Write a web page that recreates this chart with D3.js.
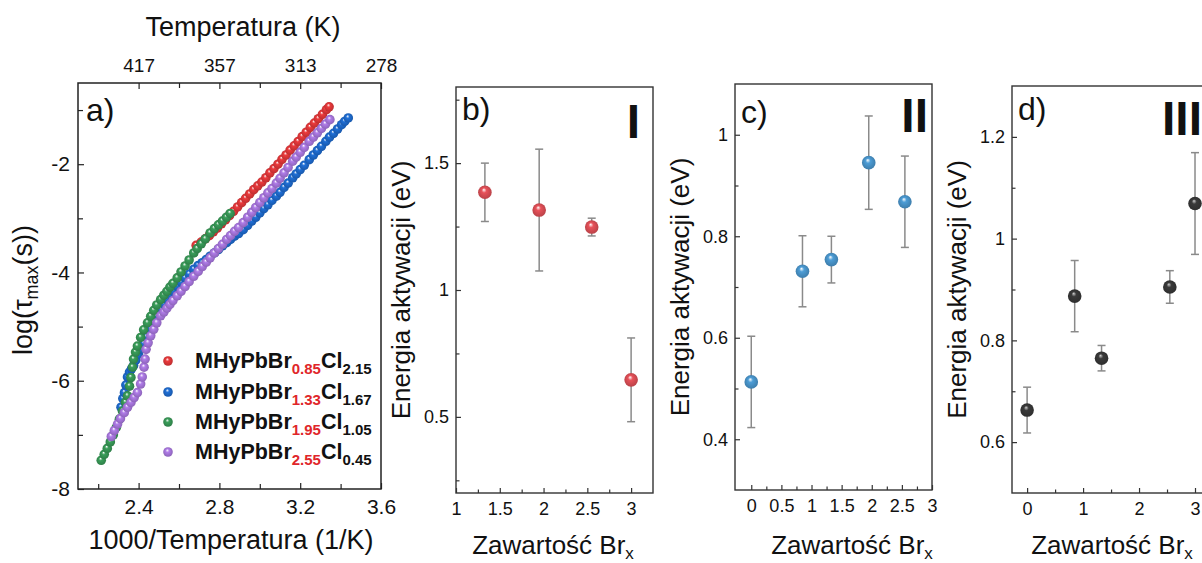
<!DOCTYPE html>
<html><head><meta charset="utf-8">
<script src="https://cdn.jsdelivr.net/npm/d3@7"></script>
<style>
body{margin:0;background:#fff}
svg{display:block}
text{font-family:"Liberation Sans",Arial,sans-serif;fill:#111}
</style>
</head><body>
<svg id="chart" width="1202" height="563"></svg>
<script>
// ---------- DATA ----------
// Panel a: log(tau_max) vs 1000/T  [x, y]
const seriesRed = [[2.685,-3.50],[2.71,-3.44],[2.73,-3.38],[2.75,-3.32],[2.77,-3.25],[2.79,-3.18],[2.81,-3.10],[2.83,-3.03],[2.85,-2.95],[2.87,-2.87],[2.89,-2.79],[2.91,-2.71],[2.93,-2.63],[2.95,-2.55],[2.97,-2.47],[2.99,-2.40],[3.01,-2.33],[3.03,-2.25],[3.05,-2.16],[3.07,-2.08],[3.09,-2.00],[3.11,-1.91],[3.13,-1.83],[3.15,-1.74],[3.17,-1.66],[3.19,-1.58],[3.21,-1.49],[3.23,-1.41],[3.25,-1.32],[3.27,-1.24],[3.29,-1.16],[3.31,-1.08],[3.33,-0.99],[3.343,-0.94]];
const seriesBlue = [[2.313,-6.49],[2.322,-6.33],[2.33,-6.22],[2.337,-6.08],[2.345,-5.93],[2.355,-5.84],[2.365,-5.78],[2.375,-5.72],[2.386,-5.62],[2.398,-5.51],[2.411,-5.42],[2.425,-5.31],[2.44,-5.19],[2.46,-5.05],[2.475,-4.93],[2.49,-4.81],[2.509,-4.68],[2.525,-4.58],[2.54,-4.49],[2.555,-4.41],[2.57,-4.34],[2.591,-4.25],[2.61,-4.18],[2.63,-4.10],[2.65,-4.03],[2.673,-3.94],[2.695,-3.87],[2.715,-3.82],[2.735,-3.76],[2.754,-3.70],[2.775,-3.64],[2.795,-3.58],[2.815,-3.51],[2.836,-3.45],[2.855,-3.39],[2.875,-3.33],[2.895,-3.28],[2.918,-3.21],[2.94,-3.13],[2.96,-3.05],[2.98,-2.98],[3.0,-2.90],[3.02,-2.82],[3.04,-2.75],[3.06,-2.67],[3.082,-2.59],[3.10,-2.52],[3.12,-2.43],[3.14,-2.35],[3.163,-2.25],[3.18,-2.18],[3.20,-2.10],[3.22,-2.02],[3.245,-1.915],[3.265,-1.83],[3.285,-1.75],[3.305,-1.67],[3.327,-1.577],[3.345,-1.50],[3.365,-1.43],[3.385,-1.35],[3.405,-1.27],[3.42,-1.21],[3.438,-1.146]];
const seriesGreen = [[2.215,-7.47],[2.23,-7.36],[2.245,-7.25],[2.26,-7.13],[2.275,-7.00],[2.29,-6.86],[2.305,-6.71],[2.32,-6.56],[2.335,-6.40],[2.345,-6.28],[2.355,-6.10],[2.362,-5.94],[2.37,-5.75],[2.375,-5.60],[2.385,-5.47],[2.394,-5.36],[2.41,-5.20],[2.425,-5.06],[2.444,-4.93],[2.46,-4.81],[2.475,-4.70],[2.49,-4.60],[2.509,-4.50],[2.525,-4.42],[2.54,-4.35],[2.555,-4.27],[2.57,-4.20],[2.591,-4.10],[2.61,-3.99],[2.63,-3.88],[2.65,-3.77],[2.673,-3.64],[2.69,-3.56],[2.71,-3.47],[2.73,-3.38],[2.754,-3.27],[2.775,-3.19],[2.795,-3.12],[2.815,-3.05],[2.835,-2.98],[2.853,-2.91]];
const seriesPurple = [[2.265,-7.03],[2.28,-6.92],[2.296,-6.80],[2.31,-6.70],[2.329,-6.59],[2.345,-6.49],[2.362,-6.40],[2.378,-6.31],[2.394,-6.22],[2.41,-6.06],[2.418,-5.93],[2.427,-5.75],[2.432,-5.60],[2.437,-5.42],[2.447,-5.30],[2.46,-5.17],[2.475,-5.05],[2.49,-4.93],[2.509,-4.80],[2.525,-4.73],[2.54,-4.66],[2.555,-4.59],[2.57,-4.52],[2.591,-4.43],[2.61,-4.35],[2.63,-4.26],[2.65,-4.17],[2.673,-4.07],[2.695,-3.98],[2.715,-3.89],[2.735,-3.81],[2.754,-3.73],[2.775,-3.64],[2.795,-3.56],[2.815,-3.48],[2.836,-3.39],[2.855,-3.32],[2.875,-3.24],[2.895,-3.17],[2.918,-3.08],[2.94,-2.98],[2.96,-2.89],[2.98,-2.80],[3.0,-2.71],[3.02,-2.62],[3.04,-2.53],[3.06,-2.45],[3.082,-2.35],[3.10,-2.26],[3.12,-2.16],[3.14,-2.06],[3.163,-1.945],[3.18,-1.87],[3.20,-1.78],[3.22,-1.69],[3.245,-1.577],[3.265,-1.50],[3.285,-1.42],[3.305,-1.34],[3.325,-1.26],[3.347,-1.177]];
const legendBr = ["0.85","1.33","1.95","2.55"];
const legendCl = ["2.15","1.67","1.05","0.45"];

// Panel a ticks
const aXMajor = [2.4,2.8,3.2,3.6], aXMinor = [2.2,2.6,3.0,3.4], aTopMinor = [2.6,3.0,3.4];
const aYMajor = [-8,-6,-4,-2], aYMinor = [-7,-5,-3,-1];

// Panel b (I)
const brI = [1.33,1.95,2.55,3.0];
const energyI = [1.385,1.315,1.248,0.646];
const errI = [0.115,0.24,0.035,0.165];
// Panel c (II)
const brII = [0,0.85,1.33,1.95,2.55];
const energyII = [0.513,0.731,0.754,0.945,0.868];
const errII = [0.09,0.07,0.046,0.092,0.09];
// Panel d (III)
const brIII = [0,0.85,1.33,2.55,3.0];
const energyIII = [0.663,0.887,0.765,0.905,1.069];
const errIII = [0.045,0.07,0.025,0.032,0.1];

const bXMajor=[1,1.5,2,2.5,3], bXMinor=[1.25,1.75,2.25,2.75], bYMajor=[0.5,1,1.5], bYMinor=[0.25,0.75,1.25,1.75];
const cXMajor=[0,0.5,1,1.5,2,2.5,3], cXMinor=[0.25,0.75,1.25,1.75,2.25,2.75], cYMajor=[0.4,0.6,0.8,1], cYMinor=[0.5,0.7,0.9];
const dXMajor=[0,1,2,3], dXMinor=[0.5,1.5,2.5], dYMajor=[0.6,0.8,1,1.2], dYMinor=[0.7,0.9,1.1];

// ---------- DRAW ----------
const FONT = '"Liberation Sans",Arial,sans-serif';
const svg = d3.select("#chart");
svg.append("rect").attr("width",1202).attr("height",563).attr("fill","#fff");
const defs = svg.append("defs");
function sphereGrad(id, color, hl) {
  const g = defs.append("radialGradient").attr("id", id)
    .attr("cx","50%").attr("cy","50%").attr("r","55%").attr("fx","42%").attr("fy","30%");
  g.append("stop").attr("offset","0%").attr("stop-color", hl || "#ffffff");
  g.append("stop").attr("offset","32%").attr("stop-color", color);
  g.append("stop").attr("offset","100%").attr("stop-color", d3.color(color).darker(0.7));
}
sphereGrad("gRed","#ec3a3c");
sphereGrad("gBlue","#1f6fd6");
sphereGrad("gGreen","#3a9e5a");
sphereGrad("gPurple","#b07ce8");
sphereGrad("gI","#e8525a");
sphereGrad("gII","#4d9dd6");
sphereGrad("gIII","#3a3a3a","#cfcfcf");

function styleAxis(g, size, color) {
  g.select(".domain").remove();
  g.selectAll("line").attr("stroke", color || "#222").attr("stroke-width",1.2);
  g.selectAll("text").attr("font-size", size).attr("font-family", FONT).attr("fill","#111");
}

// ---- Panel a ----
const A = {l:78, r:381, t:83, b:489};
const ax = d3.scaleLinear().domain([2.1,3.6]).range([A.l,A.r]);
const ay = d3.scaleLinear().domain([-8,-0.5]).range([A.b,A.t]);
const gA = svg.append("g");
gA.append("g").attr("transform",`translate(0,${A.b})`)
  .call(d3.axisBottom(ax).tickValues(aXMajor).tickSize(-6).tickPadding(10).tickFormat(d=>d.toFixed(1)))
  .call(g=>styleAxis(g,21));
gA.append("g").attr("transform",`translate(0,${A.b})`)
  .call(d3.axisBottom(ax).tickValues(aXMinor).tickSize(-5).tickFormat(""))
  .call(g=>styleAxis(g,21));
gA.append("g").attr("transform",`translate(0,${A.t})`)
  .call(d3.axisTop(ax).tickValues(aXMajor).tickSize(-6).tickPadding(11).tickFormat(d=>Math.round(1000/d)))
  .call(g=>styleAxis(g,19));
gA.append("g").attr("transform",`translate(0,${A.t})`)
  .call(d3.axisTop(ax).tickValues(aTopMinor).tickSize(-5).tickFormat(""))
  .call(g=>styleAxis(g,19));
gA.append("g").attr("transform",`translate(${A.l},0)`)
  .call(d3.axisLeft(ay).tickValues(aYMajor).tickSize(-6).tickPadding(8).tickFormat(d=>String(d)))
  .call(g=>styleAxis(g,21));
gA.append("g").attr("transform",`translate(${A.l},0)`)
  .call(d3.axisLeft(ay).tickValues(aYMinor).tickSize(-5).tickFormat(""))
  .call(g=>styleAxis(g,21));
gA.append("rect").attr("x",A.l).attr("y",A.t).attr("width",A.r-A.l).attr("height",A.b-A.t)
  .attr("fill","none").attr("stroke","#222").attr("stroke-width",1.5);

const aSeries = [
  {data: seriesRed, grad:"gRed"},
  {data: seriesBlue, grad:"gBlue"},
  {data: seriesGreen, grad:"gGreen"},
  {data: seriesPurple, grad:"gPurple"}
];
aSeries.forEach(s=>{
  gA.append("g").selectAll("circle").data(s.data).join("circle")
    .attr("cx",d=>ax(d[0])).attr("cy",d=>ay(d[1])).attr("r",4.8)
    .attr("fill",`url(#${s.grad})`);
});

// legend
const legRows = [361,392,422,452];
aSeries.forEach((s,i)=>{
  gA.append("circle").attr("cx",168).attr("cy",legRows[i]).attr("r",4.8).attr("fill",`url(#${s.grad})`);
  const t = gA.append("text").attr("x",195).attr("y",legRows[i]+7)
    .attr("font-size",21.5).attr("font-weight","bold");
  t.append("tspan").text("MHyPbBr");
  t.append("tspan").attr("font-size",15).attr("dy",6).attr("fill","#e0262a").text(legendBr[i]);
  t.append("tspan").attr("dy",-6).text("Cl");
  t.append("tspan").attr("font-size",15).attr("dy",6).text(legendCl[i]);
});

// titles panel a
svg.append("text").attr("x",243).attr("y",36).attr("text-anchor","middle").attr("font-size",27).text("Temperatura (K)");
svg.append("text").attr("x",231).attr("y",549).attr("text-anchor","middle").attr("font-size",27).text("1000/Temperatura (1/K)");
const yt = svg.append("text").attr("transform","translate(32,290) rotate(-90)").attr("text-anchor","middle").attr("font-size",27);
yt.append("tspan").text("log(τ");
yt.append("tspan").attr("font-size",18).attr("dy",6).text("max");
yt.append("tspan").attr("dy",-6).text("(s))");
svg.append("text").attr("x",86).attr("y",121).attr("font-size",32).text("a)");

// ---- Energy panels ----
function energyPanel(c) {
  const x = d3.scaleLinear().domain(c.xdom).range([c.l,c.r]);
  const y = d3.scaleLinear().domain(c.ydom).range([c.b,c.t]);
  const g = svg.append("g");
  g.append("g").attr("transform",`translate(0,${c.b})`)
    .call(d3.axisBottom(x).tickValues(c.xMajor).tickSize(-5).tickPadding(9).tickFormat(d=>String(d)))
    .call(s=>styleAxis(s,18,"#333"));
  g.append("g").attr("transform",`translate(0,${c.b})`)
    .call(d3.axisBottom(x).tickValues(c.xMinor).tickSize(-3.5).tickFormat(""))
    .call(s=>styleAxis(s,18,"#333"));
  g.append("g").attr("transform",`translate(${c.l},0)`)
    .call(d3.axisLeft(y).tickValues(c.yMajor).tickSize(-5).tickPadding(7).tickFormat(d=>String(d)))
    .call(s=>styleAxis(s,18,"#333"));
  g.append("g").attr("transform",`translate(${c.l},0)`)
    .call(d3.axisLeft(y).tickValues(c.yMinor).tickSize(-3.5).tickFormat(""))
    .call(s=>styleAxis(s,18,"#333"));
  g.append("rect").attr("x",c.l).attr("y",c.t).attr("width",c.r-c.l).attr("height",c.b-c.t)
    .attr("fill","none").attr("stroke","#333").attr("stroke-width",1.4);
  const pts = c.xs.map((v,i)=>({x:v, y:c.ys[i], e:c.errs[i]}));
  const eb = g.append("g").attr("stroke","#8a8a8a").attr("stroke-width",1.5);
  pts.forEach(p=>{
    eb.append("line").attr("x1",x(p.x)).attr("x2",x(p.x)).attr("y1",y(p.y-p.e)).attr("y2",y(p.y+p.e));
    eb.append("line").attr("x1",x(p.x)-4).attr("x2",x(p.x)+4).attr("y1",y(p.y-p.e)).attr("y2",y(p.y-p.e));
    eb.append("line").attr("x1",x(p.x)-4).attr("x2",x(p.x)+4).attr("y1",y(p.y+p.e)).attr("y2",y(p.y+p.e));
  });
  g.append("g").selectAll("circle").data(pts).join("circle")
    .attr("cx",d=>x(d.x)).attr("cy",d=>y(d.y)).attr("r",6.8).attr("fill",`url(#${c.grad})`);
  g.append("text").attr("x",c.l+6).attr("y",c.labelY).attr("font-size",32).text(c.label);
  g.append("text").attr("x",c.romanX).attr("y",c.romanY).attr("text-anchor","end")
    .attr("font-size",48).attr("font-weight","bold").text(c.roman);
  g.append("text").attr("transform",`translate(${c.l-46},${(c.t+c.b)/2}) rotate(-90)`)
    .attr("text-anchor","middle").attr("font-size",26).text("Energia aktywacji (eV)");
  const xt = g.append("text").attr("x",c.titleX).attr("y",554).attr("text-anchor","middle").attr("font-size",26);
  xt.append("tspan").text("Zawartość Br");
  xt.append("tspan").attr("font-size",17).attr("dy",5).text("x");
}

energyPanel({l:456,r:653,t:87,b:493,xdom:[1,3.25],ydom:[0.2,1.8],xMajor:bXMajor,xMinor:bXMinor,yMajor:bYMajor,yMinor:bYMinor,
  xs:brI,ys:energyI,errs:errI,grad:"gI",label:"b)",labelY:120,roman:"I",romanX:640,romanY:138,titleX:553});
energyPanel({l:735,r:932,t:84,b:490,xdom:[-0.27,3],ydom:[0.3,1.1],xMajor:cXMajor,xMinor:cXMinor,yMajor:cYMajor,yMinor:cYMinor,
  xs:brII,ys:energyII,errs:errII,grad:"gII",label:"c)",labelY:123,roman:"II",romanX:928,romanY:132,titleX:852});
energyPanel({l:1012,r:1209,t:86,b:493,xdom:[-0.27,3.25],ydom:[0.5,1.3],xMajor:dXMajor,xMinor:dXMinor,yMajor:dYMajor,yMinor:dYMinor,
  xs:brIII,ys:energyIII,errs:errIII,grad:"gIII",label:"d)",labelY:120,roman:"III",romanX:1202,romanY:135,titleX:1112});
</script>
</body></html>
